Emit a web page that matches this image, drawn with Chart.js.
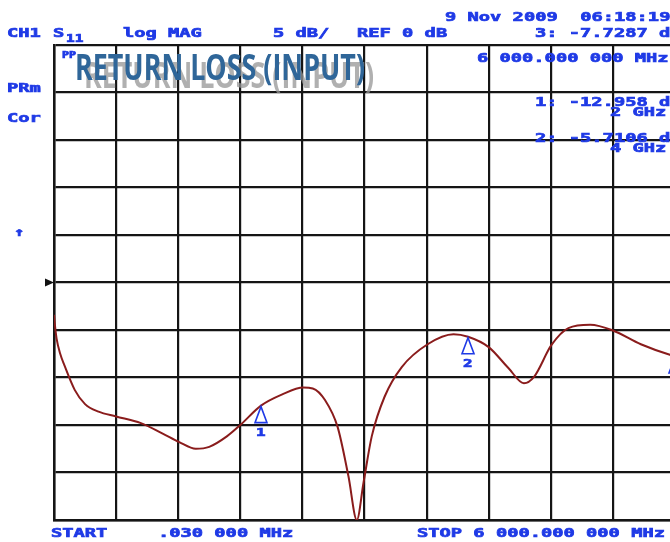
<!DOCTYPE html>
<html>
<head>
<meta charset="utf-8">
<script src="https://cdn.jsdelivr.net/npm/chart.js@4.4.1/dist/chart.umd.min.js"></script>
<style>
  html, body { margin: 0; padding: 0; background: #fff; overflow: hidden; }
  #wrap { width: 680px; height: 542px; }
</style>
</head>
<body>
<div id="wrap"><canvas id="grafico" width="680" height="542"></canvas></div>
<script>
const frecuencias = [0.03, 10, 25, 60, 100, 200, 300, 430, 600, 840, 1050, 1210, 1370, 1500, 1670, 1800,
  2000, 2200, 2410, 2500, 2620, 2740, 2845, 2926, 2990, 3070, 3195, 3360, 3610, 3860, 4000,
  4200, 4390, 4540, 4640, 4805, 4970, 5180, 5400, 5670, 5950, 6000];
const perdidaDB = [-3.4, -4.6, -5.9, -7.5, -8.7, -11.3, -12.8, -13.6, -14.1, -14.8, -15.9, -16.8, -17.5, -17.3, -16.2, -15.0,
  -12.96, -11.8, -11.05, -11.15, -12.4, -15.2, -20.4, -25.0, -21.1, -16.2, -12.0, -8.9, -6.5, -5.45, -5.71,
  -6.8, -9.0, -10.6, -9.9, -6.6, -4.8, -4.45, -5.05, -6.5, -7.6, -7.73];

// Marcadores
const marcadorFrec = [2000, 4000, 6000];
const marcadorDB = [-12.958, -5.7106, -7.7287];
const marcadorNum = ['1', '2', '3'];

// Escalas
const frecInicio = 0.03;
const frecFin = 6000;
const pasoFrec = 600;
const dbMin = -25;
const dbMax = 25;
const pasoDB = 5;
const nivelRef = 0;

const AZUL = '#1f3ae6';

// texto tipo analizador (ancho, bajo y grueso)
function textoAnalizador(ctx, str, x, y, size) {
  ctx.save();
  ctx.font = 'bold ' + (size || 13) + 'px "DejaVu Sans Mono", monospace';
  ctx.fillStyle = AZUL;
  ctx.strokeStyle = AZUL;
  ctx.lineWidth = 0.7;
  ctx.textBaseline = 'alphabetic';
  ctx.translate(x, y);
  ctx.scale(1.44, 1);
  ctx.fillText(str, 0, 0);
  ctx.strokeText(str, 0, 0);
  ctx.restore();
}

const anotaciones = {
  id: 'anotaciones',
  afterDraw(chart) {
    const ctx = chart.ctx;
    const xs = chart.scales.x, ys = chart.scales.y;

    // Encabezado
    textoAnalizador(ctx, '9 Nov 2009  06:18:19', 445, 21);
    textoAnalizador(ctx, 'CH1', 7, 37);
    textoAnalizador(ctx, 'S', 53, 37);
    textoAnalizador(ctx, '11', 66, 42, 10);
    textoAnalizador(ctx, 'log MAG', 123, 37);
    textoAnalizador(ctx, '5 dB/', 273, 37);
    textoAnalizador(ctx, 'REF 0 dB', 357, 37);
    textoAnalizador(ctx, '3: -7.7287 dB', 535, 37);
    textoAnalizador(ctx, '6 000.000 000 MHz', 477, 62);
    textoAnalizador(ctx, '1: -12.958 dB', 535, 106);
    textoAnalizador(ctx, '2 GHz', 610, 116);
    textoAnalizador(ctx, '2: -5.7106 dB', 535, 142);
    textoAnalizador(ctx, '4 GHz', 610, 152);
    textoAnalizador(ctx, 'PRm', 7, 92);
    textoAnalizador(ctx, 'Cor', 7, 122);
    textoAnalizador(ctx, '\u2191', 14, 236, 12);
    textoAnalizador(ctx, 'PP', 62, 58, 8);
    textoAnalizador(ctx, 'START', 51, 537);
    textoAnalizador(ctx, '.030 000 MHz', 158, 537);
    textoAnalizador(ctx, 'STOP 6 000.000 000 MHz', 417, 537);

    // flecha de referencia
    const yr = ys.getPixelForValue(nivelRef);
    const xl = chart.chartArea.left;
    ctx.save();
    ctx.fillStyle = '#111';
    ctx.beginPath();
    ctx.moveTo(xl - 9, yr - 4);
    ctx.lineTo(xl, yr);
    ctx.lineTo(xl - 9, yr + 4);
    ctx.closePath();
    ctx.fill();
    ctx.restore();

    // marcadores
    ctx.save();
    ctx.strokeStyle = AZUL;
    ctx.lineWidth = 1.6;
    for (let i = 0; i < marcadorFrec.length; i++) {
      const px = xs.getPixelForValue(marcadorFrec[i]);
      const py = ys.getPixelForValue(marcadorDB[i]);
      ctx.beginPath();
      ctx.moveTo(px, py + 1);
      ctx.lineTo(px - 6, py + 17);
      ctx.lineTo(px + 6, py + 17);
      ctx.closePath();
      ctx.stroke();
      textoAnalizador(ctx, marcadorNum[i], px - 5, py + 30, 11);
    }
    ctx.restore();

    // Titulo
    const titulo = 'RETURN LOSS (INPUT)';
    ctx.save();
    ctx.font = 'bold 35px "Liberation Sans Narrow", "Open Sans", sans-serif';
    const w = ctx.measureText(titulo).width;
    const sx = 290 / w;
    ctx.fillStyle = 'rgba(150,150,150,0.75)';
    ctx.save();
    ctx.translate(84, 88);
    ctx.scale(sx, 1);
    ctx.fillText(titulo, 0, 0);
    ctx.restore();
    ctx.fillStyle = '#2f6699';
    ctx.translate(75, 80);
    ctx.scale(sx, 1);
    ctx.fillText(titulo, 0, 0);
    ctx.restore();
  }
};

new Chart(document.getElementById('grafico'), {
  type: 'line',
  data: {
    datasets: [{
      data: frecuencias.map((f, i) => ({ x: f, y: perdidaDB[i] })),
      borderColor: '#8a1c1c',
      borderWidth: 2,
      pointRadius: 0,
      cubicInterpolationMode: 'monotone',
      fill: false
    }]
  },
  options: {
    responsive: false,
    animation: false,
    devicePixelRatio: 1,
    layout: { padding: { left: 54, top: 45, right: 5, bottom: 22 } },
    plugins: { legend: { display: false }, tooltip: { enabled: false } },
    scales: {
      x: {
        type: 'linear',
        min: frecInicio,
        max: frecFin,
        ticks: { display: false, stepSize: pasoFrec },
        grid: { color: '#151515', lineWidth: 2.2, drawTicks: false },
        border: { display: true, color: '#151515', width: 2.5 },
        afterFit: s => { s.height = 0; }
      },
      y: {
        min: dbMin,
        max: dbMax,
        ticks: { display: false, stepSize: pasoDB },
        grid: { color: '#151515', lineWidth: 2.2, drawTicks: false },
        border: { display: true, color: '#151515', width: 2.5 },
        afterFit: s => { s.width = 0; }
      }
    }
  },
  plugins: [anotaciones]
});
</script>
</body>
</html>
